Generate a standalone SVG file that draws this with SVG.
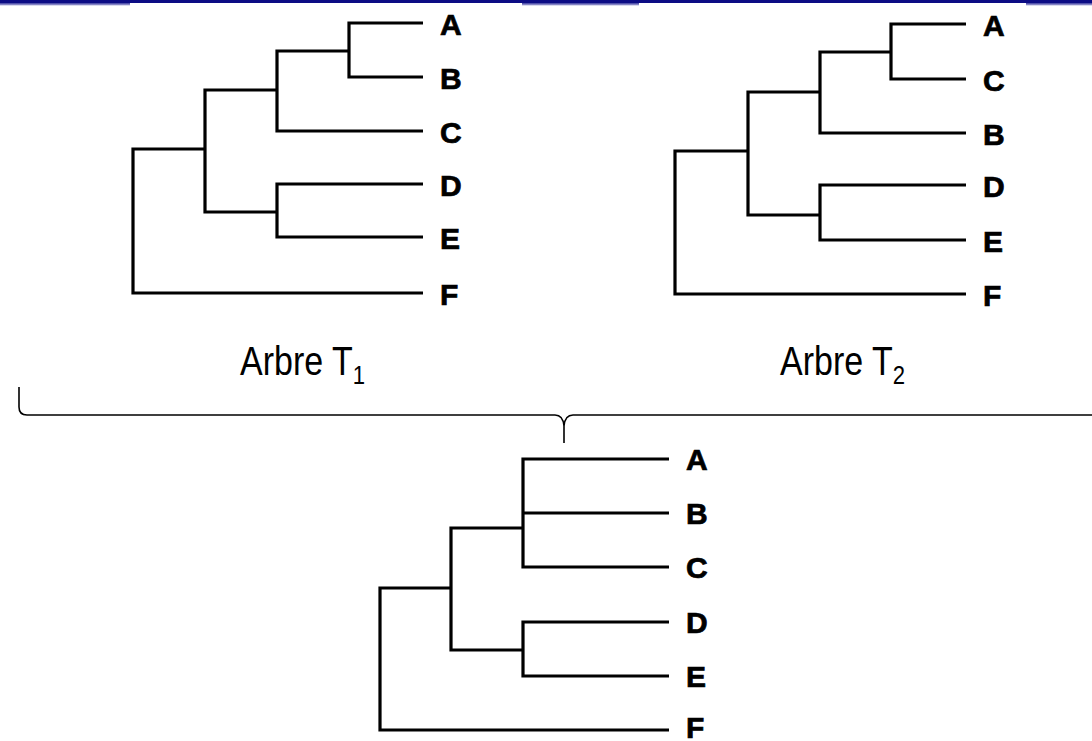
<svg xmlns="http://www.w3.org/2000/svg" width="1092" height="741" viewBox="0 0 1092 741">
  <style>
    .branch { fill: none; stroke: #000; stroke-width: 3.2; stroke-linejoin: miter; stroke-linecap: butt; }
    .leaf { font-family: "Liberation Sans", Arial, sans-serif; font-weight: bold; font-size: 30px; fill: #000; stroke: #000; stroke-width: 0.7; }
    .caption { font-family: "Liberation Sans", Arial, sans-serif; font-size: 40px; fill: #000; }
    .sub { font-size: 26px; }
    .brace { fill: none; stroke: #000; stroke-width: 1.6; }
  </style>
  <defs>
    <linearGradient id="barShade" x1="0" y1="0" x2="0" y2="1">
      <stop offset="0" stop-color="#3a3aa0"/>
      <stop offset="1" stop-color="#b4b4dc"/>
    </linearGradient>
  </defs>

  <rect width="1092" height="741" fill="#fff"/>

  <!-- title bar rule along the top edge -->
  <g id="top-rule">
    <rect x="0" y="0" width="1092" height="3" fill="#0c0c84"/>
    <rect x="0" y="3" width="130" height="2.5" fill="url(#barShade)"/>
    <rect x="522" y="3" width="117" height="2.5" fill="url(#barShade)"/>
    <rect x="1026" y="3" width="66" height="2.5" fill="url(#barShade)"/>
  </g>

  <!-- branches of the three trees -->
  <g id="connectors">
    <g id="t1-branches">
      <path class="branch" d="M423,23 H349 V77 H423"/>
      <path class="branch" d="M349,51 H277 V131 H423"/>
      <path class="branch" d="M423,184 H277 V237 H423"/>
      <path class="branch" d="M277,90 H205 V212 H277"/>
      <path class="branch" d="M205,149 H133 V293 H423"/>
    </g>
    <g id="t2-branches">
      <path class="branch" d="M966,24 H891 V79 H966"/>
      <path class="branch" d="M891,52 H820 V133 H966"/>
      <path class="branch" d="M966,185 H820 V240 H966"/>
      <path class="branch" d="M820,92 H748 V215 H820"/>
      <path class="branch" d="M748,151 H675 V294 H966"/>
    </g>
    <g id="consensus-branches">
      <path class="branch" d="M669,459 H523 V567 H669"/>
      <path class="branch" d="M523,513 H669"/>
      <path class="branch" d="M669,622 H523 V676 H669"/>
      <path class="branch" d="M523,528 H451 V650 H523"/>
      <path class="branch" d="M451,588 H380 V730 H669"/>
    </g>
    <!-- brace joining both trees to the consensus -->
    <path id="brace" class="brace" d="M19,387 V407 Q19,415 27,415 H555 Q563,415 564,426 V443 M564,426 Q565,415 573,415 H1096"/>
  </g>

  <!-- tree T1 leaves -->
  <g id="t1-leaf-A"><text class="leaf" x="440" y="35">A</text></g>
  <g id="t1-leaf-B"><text class="leaf" x="440" y="89">B</text></g>
  <g id="t1-leaf-C"><text class="leaf" x="440" y="143">C</text></g>
  <g id="t1-leaf-D"><text class="leaf" x="440" y="196">D</text></g>
  <g id="t1-leaf-E"><text class="leaf" x="440" y="249">E</text></g>
  <g id="t1-leaf-F"><text class="leaf" x="440" y="305">F</text></g>

  <!-- tree T2 leaves -->
  <g id="t2-leaf-A"><text class="leaf" x="983" y="36">A</text></g>
  <g id="t2-leaf-C"><text class="leaf" x="983" y="91">C</text></g>
  <g id="t2-leaf-B"><text class="leaf" x="983" y="145">B</text></g>
  <g id="t2-leaf-D"><text class="leaf" x="983" y="197">D</text></g>
  <g id="t2-leaf-E"><text class="leaf" x="983" y="252">E</text></g>
  <g id="t2-leaf-F"><text class="leaf" x="983" y="306">F</text></g>

  <!-- consensus tree leaves -->
  <g id="c-leaf-A"><text class="leaf" x="686" y="470">A</text></g>
  <g id="c-leaf-B"><text class="leaf" x="686" y="524">B</text></g>
  <g id="c-leaf-C"><text class="leaf" x="686" y="578">C</text></g>
  <g id="c-leaf-D"><text class="leaf" x="686" y="633">D</text></g>
  <g id="c-leaf-E"><text class="leaf" x="686" y="687">E</text></g>
  <g id="c-leaf-F"><text class="leaf" x="686" y="738">F</text></g>

  <!-- captions -->
  <g id="caption-t1">
    <text class="caption" transform="translate(240,375) scale(0.85,1)">Arbre T<tspan class="sub" dy="9">1</tspan></text>
  </g>
  <g id="caption-t2">
    <text class="caption" transform="translate(780,375) scale(0.85,1)">Arbre T<tspan class="sub" dy="9">2</tspan></text>
  </g>
</svg>
